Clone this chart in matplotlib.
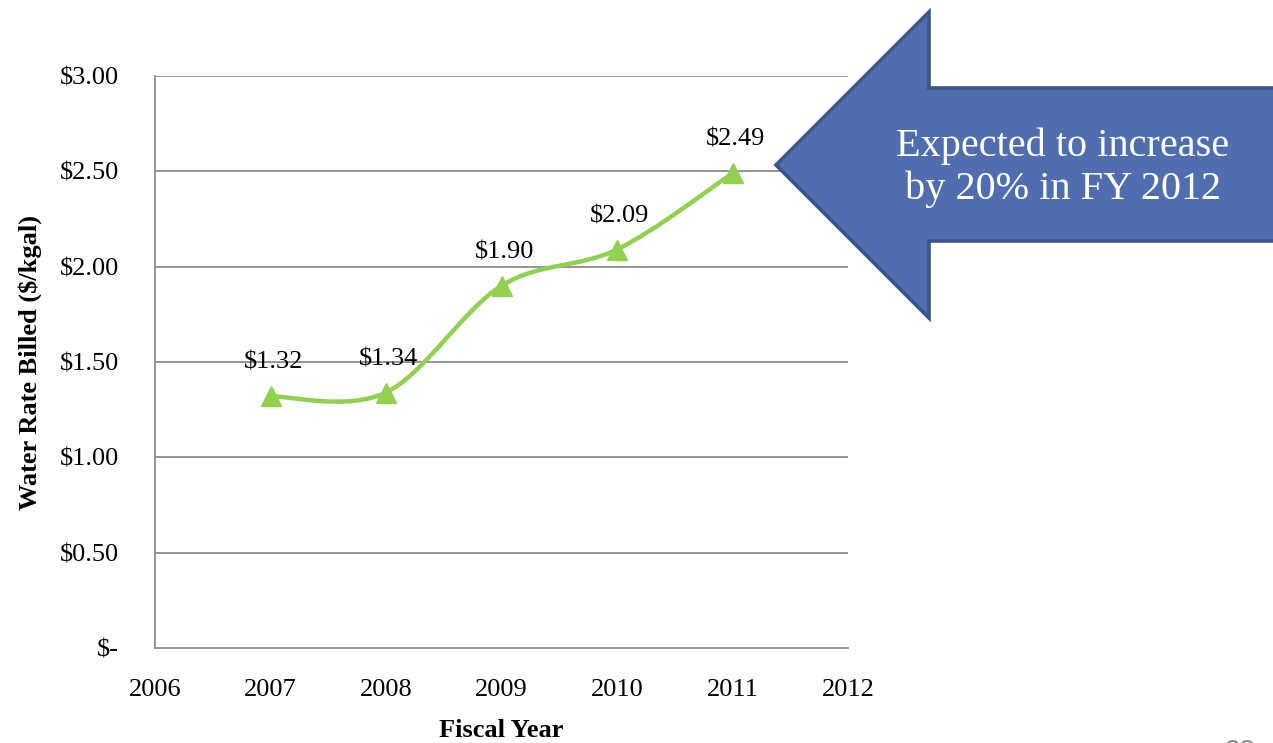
import matplotlib
matplotlib.use("Agg")
import matplotlib.pyplot as plt
from matplotlib.path import Path
from matplotlib.patches import PathPatch, Polygon
import numpy as np

# Water rate billed per fiscal year ($ per thousand gallons)
years = [2007, 2008, 2009, 2010, 2011]
rates = [1.32, 1.34, 1.90, 2.09, 2.49]
x_ticks = [2006, 2007, 2008, 2009, 2010, 2011, 2012]
y_ticks = [0.0, 0.5, 1.0, 1.5, 2.0, 2.5, 3.0]
callout_text = "Expected to increase\nby 20% in FY 2012"

FONT = "Liberation Serif"
GREEN = "#92D050"
GRID = "#8C8C8C"
FS = 19

W, H = 1273, 743
fig = plt.figure(figsize=(W / 100, H / 100), dpi=100)
fig.patch.set_facecolor("white")

def fx(px):
    return px / W

def fy(py):
    return 1 - py / H

ax = fig.add_axes([fx(155), fy(648), fx(848) - fx(155), fy(76) - fy(648)])
ax.set_xlim(x_ticks[0], x_ticks[-1])
ax.set_ylim(y_ticks[0], y_ticks[-1])


def smooth_path(xs, ys):
    """Cubic Bezier through the points with Catmull-Rom style tangents."""
    pts = np.column_stack([xs, ys]).astype(float)
    n = len(pts)
    verts = [pts[0]]
    codes = [Path.MOVETO]
    for i in range(n - 1):
        p0 = pts[i - 1] if i > 0 else pts[i]
        p1 = pts[i]
        p2 = pts[i + 1]
        p3 = pts[i + 2] if i + 2 < n else pts[i + 1]
        c1 = p1 + (p2 - p0) / 6.0
        c2 = p2 - (p3 - p1) / 6.0
        verts += [c1, c2, p2]
        codes += [Path.CURVE4] * 3
    return Path(verts, codes)


for y in y_ticks[1:]:
    ax.axhline(y, color=GRID, lw=1.3, zorder=1)

line = PathPatch(smooth_path(years, rates), facecolor="none", edgecolor=GREEN,
                 lw=3.2, capstyle="round", zorder=3)
ax.add_patch(line)
ax.plot(years, rates, linestyle="none", marker="^", markersize=15,
        color=GREEN, zorder=4)

for x, y in zip(years, rates):
    ax.annotate(f"${y:.2f}", (x, y), xytext=(2, 24), textcoords="offset points",
                ha="center", va="center", fontsize=FS, family=FONT, color="black")

for side in ("top", "right"):
    ax.spines[side].set_visible(False)
for side in ("left", "bottom"):
    ax.spines[side].set_color(GRID)
    ax.spines[side].set_linewidth(1.3)

ax.set_xticks(x_ticks)
ax.set_xticklabels([str(t) for t in x_ticks])
ax.set_yticks(y_ticks)
ax.set_yticklabels(["$-" if t == 0 else f"${t:.2f}" for t in y_ticks])
ax.tick_params(length=0, labelsize=FS)
ax.tick_params(axis="x", pad=22)
ax.tick_params(axis="y", pad=26)
for lab in ax.get_xticklabels() + ax.get_yticklabels():
    lab.set_family(FONT)

ax.set_xlabel("Fiscal Year", family=FONT, fontsize=FS, fontweight="bold", labelpad=13)
ax.set_ylabel("Water Rate Billed ($/kgal)", family=FONT, fontsize=FS,
              fontweight="bold", labelpad=13)

# Callout arrow pointing back at the chart
arrow_px = [(776, 165), (929, 12), (929, 88), (1275, 88),
            (1275, 241), (929, 241), (929, 318)]
arrow = Polygon([(fx(x), fy(y)) for x, y in arrow_px], closed=True,
                transform=fig.transFigure, facecolor="#506EAF",
                edgecolor="#3A5588", lw=2.6, joinstyle="miter", zorder=5)
fig.add_artist(arrow)
fig.text(fx(1063), fy(168), callout_text, ha="center", va="center",
         color="white", fontsize=29, family=FONT, linespacing=1.2, zorder=6)

# Slide number
fig.text(fx(1240), fy(752), "22", ha="center", va="center",
         color="#8C8C8C", fontsize=20, family="Liberation Sans")

fig.savefig("out.png", dpi=100, facecolor="white")
